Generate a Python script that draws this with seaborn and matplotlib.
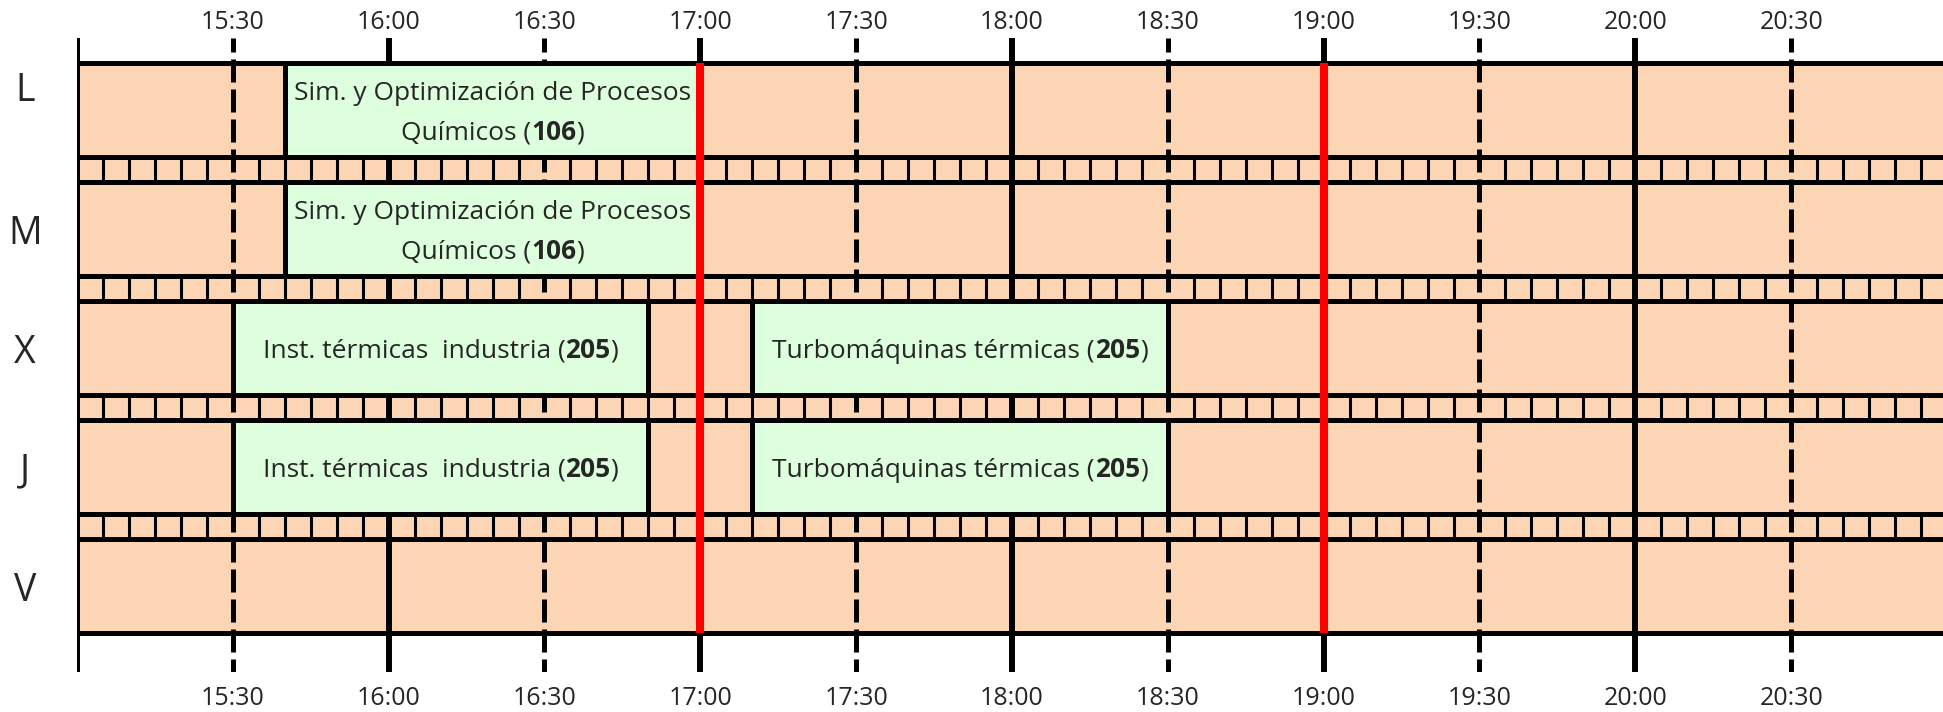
import numpy as np
import matplotlib
matplotlib.use("Agg")
import matplotlib.pyplot as plt
from matplotlib.transforms import ScaledTranslation
import seaborn as sns

# timetable data
days = ["L", "M", "X", "J", "V"]
class_day = ["L", "M", "X", "J", "X", "J"]
class_start = ["15:40", "15:40", "15:30", "15:30", "17:10", "17:10"]
class_end = ["17:00", "17:00", "16:50", "16:50", "18:30", "18:30"]
class_lines = [
    [[("Sim. y Optimización de Procesos", "normal")], [("Químicos (", "normal"), ("106", "bold"), (")", "normal")]],
    [[("Sim. y Optimización de Procesos", "normal")], [("Químicos (", "normal"), ("106", "bold"), (")", "normal")]],
    [[("Inst. térmicas  industria (", "normal"), ("205", "bold"), (")", "normal")]],
    [[("Inst. térmicas  industria (", "normal"), ("205", "bold"), (")", "normal")]],
    [[("Turbomáquinas térmicas (", "normal"), ("205", "bold"), (")", "normal")]],
    [[("Turbomáquinas térmicas (", "normal"), ("205", "bold"), (")", "normal")]],
]
tick_labels = ["15:30", "16:00", "16:30", "17:00", "17:30", "18:00",
               "18:30", "19:00", "19:30", "20:00", "20:30"]
red_times = ["17:00", "19:00"]
day_start, day_end = "15:00", "21:00"


def hours(s):
    h, m = s.split(":")
    return int(h) + int(m) / 60


sns.set_theme(style="white")
plt.rcParams["font.family"] = ["Open Sans", "DejaVu Sans"]

PEACH = "#FCD5B5"
GREEN = "#DDFFDD"
ROW = 0.79
x0, x1 = hours(day_start), hours(day_end)

fig = plt.figure(figsize=(19.43, 7.12), dpi=100)
ax = fig.add_axes([77 / 1943, 40 / 712, 1870 / 1943, (672 - 38) / 712])
ax.set_xlim(x0, x1)
ax.set_ylim(len(days) - 1 + ROW + 0.33, -0.21)
for s in ax.spines.values():
    s.set_visible(False)

# the first day label sits a bit higher in the original
label_shift = {"L": 19}

# row and strip backgrounds
for i, d in enumerate(days):
    ax.barh(i + ROW / 2, x1 - x0, left=x0, height=ROW, color=PEACH, zorder=1)
    if i < len(days) - 1:
        ax.barh(i + ROW + (1 - ROW) / 2, x1 - x0, left=x0, height=1 - ROW,
                color=PEACH, zorder=1)
        # 5 minute marks in the strip
        mins = np.arange(5, 360, 5)
        mins = mins[mins % 30 != 0]
        ax.vlines(x0 + mins / 60, i + ROW, i + 1, color="black", lw=2.2, zorder=2)
    ax.text(-52 / 1870, i + ROW / 2, d,
            transform=ax.get_yaxis_transform() + ScaledTranslation(
                0, label_shift.get(d, -5) / fig.dpi, fig.dpi_scale_trans),
            ha="center", va="center", fontsize=27)

# grid lines: hours solid, half hours dashed
ax.axvline(x0, color="black", lw=4.3, zorder=3)
for lab in tick_labels:
    t = hours(lab)
    if lab.endswith(":00"):
        ax.axvline(t, color="black", lw=4.3, zorder=3)
    else:
        ax.axvline(t, color="black", lw=3.6, ls=(2, (4.6, 1.4)), zorder=3)

# horizontal borders
for i in range(len(days)):
    ax.hlines([i, i + ROW], x0, x1, color="black", lw=3.6, zorder=4)

# classes
fig.canvas.draw()
renderer = fig.canvas.get_renderer()
for d, s, e, lines in zip(class_day, class_start, class_end, class_lines):
    i = days.index(d)
    a, b = hours(s), hours(e)
    ax.barh(i + ROW / 2, b - a, left=a, height=ROW, color=GREEN,
            edgecolor="black", lw=3.6, zorder=5)
    xc, yc = (a + b) / 2, i + ROW / 2
    n = len(lines)
    for k, parts in enumerate(lines):
        base = -(k - (n - 1) / 2) * 40 - 10
        texts = [ax.text(xc, yc, txt, fontsize=19, fontweight=w, ha="left",
                         va="baseline", zorder=7) for txt, w in parts]
        widths = [t.get_window_extent(renderer).width for t in texts]
        off = -sum(widths) / 2
        for t, w in zip(texts, widths):
            t.set_transform(ax.transData + ScaledTranslation(off / fig.dpi, base / fig.dpi,
                                                              fig.dpi_scale_trans))
            off += w

# red lines
ax.vlines([hours(r) for r in red_times], 0, len(days) - 1 + ROW, color="#FF0000",
          lw=5.8, zorder=6)

ticks = [hours(l) for l in tick_labels]
ax.set_xticks(ticks, tick_labels)
ax.set_yticks([])
ax.tick_params(axis="x", length=0, labelsize=18, pad=10)
ax.grid(False)

top = ax.secondary_xaxis("top")
top.set_xticks(ticks, tick_labels)
top.tick_params(length=0, labelsize=18, pad=2)
top.spines["top"].set_visible(False)

fig.savefig("out.png", dpi=100)
